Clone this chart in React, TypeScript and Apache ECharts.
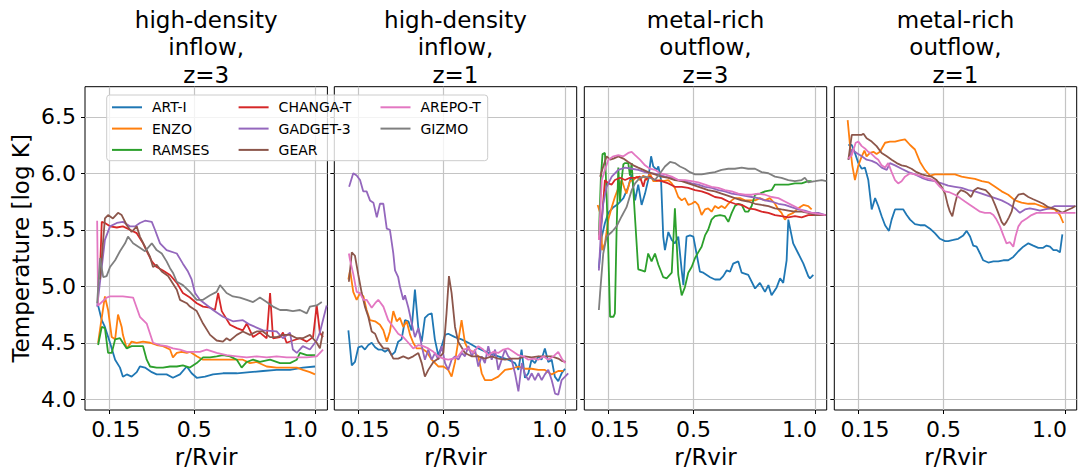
import React, { useEffect, useRef } from 'react';
import * as echarts from 'echarts';

// ---------- labels / ticks ----------
const SERIES_NAMES = ['ART-I', 'ENZO', 'RAMSES', 'CHANGA-T', 'GADGET-3', 'GEAR', 'AREPO-T', 'GIZMO'];
const SERIES_COLORS = ['#1f77b4', '#ff7f0e', '#2ca02c', '#d62728', '#9467bd', '#8c564b', '#e377c2', '#7f7f7f'];
const PANEL_TITLES = [
  'high-density\ninflow,\nz=3',
  'high-density\ninflow,\nz=1',
  'metal-rich\noutflow,\nz=3',
  'metal-rich\noutflow,\nz=1',
];
const X_TICKS = [0.15, 0.5, 1.0];
const Y_TICKS = [4.0, 4.5, 5.0, 5.5, 6.0, 6.5];
const LEGEND_COLUMNS = [
  ['ART-I', 'ENZO', 'RAMSES'],
  ['CHANGA-T', 'GADGET-3', 'GEAR'],
  ['AREPO-T', 'GIZMO'],
];

// ---------- panel 1: high-density inflow, z=3 ----------
const p1ArtI = [[0.104,4.83],[0.119,4.70],[0.132,4.64],[0.153,4.50],[0.174,4.35],[0.194,4.28],[0.206,4.20],[0.222,4.22],[0.242,4.20],[0.263,4.24],[0.276,4.29],[0.297,4.28],[0.325,4.24],[0.345,4.22],[0.386,4.22],[0.412,4.19],[0.441,4.22],[0.469,4.29],[0.489,4.23],[0.510,4.19],[0.544,4.20],[0.577,4.22],[0.618,4.23],[0.675,4.23],[0.729,4.24],[0.783,4.25],[0.839,4.26],[0.894,4.26],[0.947,4.28],[0.997,4.29]];
const p1Enzo = [[0.104,4.50],[0.112,4.62],[0.132,4.91],[0.145,4.79],[0.160,4.55],[0.174,4.53],[0.186,4.75],[0.201,4.64],[0.206,4.57],[0.222,4.45],[0.242,4.51],[0.263,4.50],[0.289,4.51],[0.318,4.50],[0.345,4.48],[0.371,4.47],[0.400,4.44],[0.412,4.37],[0.428,4.41],[0.448,4.42],[0.469,4.41],[0.482,4.42],[0.510,4.38],[0.536,4.35],[0.577,4.35],[0.618,4.35],[0.659,4.35],[0.700,4.35],[0.729,4.32],[0.757,4.33],[0.798,4.29],[0.839,4.28],[0.880,4.28],[0.922,4.28],[0.947,4.26],[0.976,4.24],[0.997,4.22]];
const p1Ramses = [[0.104,4.48],[0.119,4.64],[0.132,4.63],[0.145,4.41],[0.160,4.41],[0.174,4.53],[0.194,4.54],[0.206,4.50],[0.222,4.45],[0.242,4.47],[0.289,4.47],[0.304,4.35],[0.318,4.29],[0.345,4.28],[0.371,4.28],[0.400,4.29],[0.428,4.29],[0.453,4.30],[0.482,4.28],[0.510,4.32],[0.536,4.37],[0.565,4.37],[0.592,4.38],[0.618,4.39],[0.647,4.38],[0.675,4.35],[0.695,4.28],[0.716,4.33],[0.742,4.35],[0.770,4.33],[0.812,4.35],[0.853,4.32],[0.894,4.32],[0.922,4.35],[0.935,4.41],[0.963,4.39],[0.997,4.39]];
const p1Changa = [[0.112,5.14],[0.119,5.57],[0.132,5.56],[0.153,5.53],[0.181,5.52],[0.206,5.53],[0.235,5.50],[0.263,5.47],[0.289,5.38],[0.309,5.29],[0.325,5.22],[0.345,5.17],[0.371,5.14],[0.400,5.10],[0.428,5.03],[0.453,4.94],[0.482,4.90],[0.510,4.85],[0.536,4.82],[0.565,4.81],[0.585,4.79],[0.598,4.94],[0.613,4.78],[0.647,4.66],[0.675,4.63],[0.700,4.61],[0.716,4.67],[0.742,4.55],[0.770,4.59],[0.798,4.54],[0.812,4.94],[0.824,4.54],[0.853,4.55],[0.865,4.59],[0.880,4.50],[0.906,4.52],[0.935,4.54],[0.963,4.51],[0.989,4.55],[1.004,4.83],[1.017,4.59],[1.030,4.55]];
const p1Gadget = [[0.100,4.82],[0.132,5.41],[0.153,5.53],[0.181,5.56],[0.206,5.57],[0.235,5.53],[0.256,5.53],[0.276,5.56],[0.297,5.58],[0.325,5.57],[0.338,5.50],[0.359,5.38],[0.386,5.32],[0.428,5.29],[0.453,5.20],[0.474,5.13],[0.489,5.06],[0.503,4.94],[0.523,4.88],[0.577,4.79],[0.618,4.73],[0.659,4.69],[0.700,4.70],[0.729,4.66],[0.783,4.61],[0.839,4.60],[0.865,4.54],[0.894,4.59],[0.906,4.44],[0.922,4.41],[0.947,4.47],[0.976,4.44],[1.004,4.52],[1.017,4.59],[1.045,4.83]];
const p1Gear = [[0.112,5.06],[0.132,5.60],[0.145,5.63],[0.165,5.60],[0.186,5.65],[0.201,5.63],[0.222,5.54],[0.242,5.48],[0.263,5.53],[0.276,5.44],[0.297,5.35],[0.318,5.26],[0.330,5.17],[0.345,5.19],[0.366,5.13],[0.392,5.09],[0.428,4.97],[0.441,4.88],[0.469,4.85],[0.482,4.82],[0.510,4.78],[0.536,4.67],[0.565,4.57],[0.592,4.52],[0.618,4.51],[0.633,4.54],[0.647,4.52],[0.675,4.57],[0.700,4.60],[0.729,4.57],[0.757,4.60],[0.783,4.60],[0.812,4.55],[0.839,4.55],[0.865,4.57],[0.894,4.57],[0.922,4.54],[0.947,4.54],[0.976,4.57],[1.004,4.50],[1.017,4.45],[1.030,4.60]];
const p1Arepo = [[0.100,5.58],[0.104,4.83],[0.139,4.90],[0.153,4.91],[0.206,4.91],[0.248,4.90],[0.276,4.73],[0.304,4.67],[0.330,4.50],[0.359,4.48],[0.386,4.47],[0.412,4.45],[0.441,4.44],[0.469,4.42],[0.523,4.42],[0.551,4.44],[0.592,4.41],[0.633,4.39],[0.675,4.38],[0.716,4.37],[0.757,4.38],[0.798,4.37],[0.839,4.38],[0.880,4.37],[0.963,4.37],[1.004,4.38],[1.030,4.44]];
const p1Gizmo = [[0.100,4.85],[0.112,5.25],[0.125,5.08],[0.139,5.09],[0.153,5.17],[0.174,5.23],[0.194,5.31],[0.215,5.38],[0.227,5.44],[0.248,5.38],[0.276,5.34],[0.297,5.31],[0.325,5.38],[0.345,5.32],[0.366,5.29],[0.386,5.22],[0.400,5.16],[0.412,5.12],[0.428,5.04],[0.453,5.01],[0.482,4.95],[0.510,4.88],[0.536,4.88],[0.565,4.92],[0.592,4.95],[0.606,5.01],[0.633,4.94],[0.659,4.91],[0.688,4.90],[0.716,4.88],[0.742,4.86],[0.770,4.90],[0.798,4.86],[0.824,4.82],[0.853,4.79],[0.880,4.79],[0.906,4.78],[0.935,4.79],[0.963,4.76],[0.976,4.82],[1.004,4.83],[1.025,4.86]];

// ---------- panel 2: high-density inflow, z=1 ----------
const p2ArtI = [[0.108,4.61],[0.122,4.30],[0.135,4.33],[0.149,4.46],[0.163,4.47],[0.176,4.44],[0.190,4.48],[0.204,4.50],[0.218,4.46],[0.231,4.44],[0.245,4.44],[0.259,4.42],[0.272,4.44],[0.286,4.39],[0.300,4.42],[0.313,4.51],[0.327,4.53],[0.341,4.70],[0.355,4.69],[0.368,4.61],[0.382,4.97],[0.396,4.63],[0.410,4.51],[0.423,4.72],[0.437,4.75],[0.451,4.76],[0.464,4.53],[0.478,4.39],[0.492,4.47],[0.506,4.57],[0.519,4.58],[0.547,4.55],[0.574,4.53],[0.602,4.50],[0.643,4.45],[0.684,4.41],[0.725,4.38],[0.766,4.35],[0.794,4.32],[0.808,4.26],[0.821,4.44],[0.835,4.19],[0.849,4.23],[0.862,4.35],[0.876,4.32],[0.890,4.38],[0.903,4.35],[0.917,4.45],[0.931,4.33],[0.945,4.35],[0.958,4.20],[0.972,4.16],[0.986,4.23],[1.000,4.27]];
const p2Enzo = [[0.108,5.06],[0.115,5.14],[0.128,4.95],[0.142,4.88],[0.156,4.94],[0.170,4.91],[0.183,4.79],[0.197,4.70],[0.218,4.69],[0.238,4.66],[0.252,4.61],[0.266,4.51],[0.279,4.60],[0.293,4.78],[0.307,4.69],[0.320,4.72],[0.334,4.64],[0.348,4.69],[0.362,4.57],[0.375,4.50],[0.389,4.45],[0.410,4.45],[0.430,4.42],[0.451,4.35],[0.478,4.29],[0.499,4.29],[0.519,4.26],[0.533,4.20],[0.547,4.33],[0.560,4.51],[0.574,4.70],[0.588,4.50],[0.602,4.44],[0.622,4.42],[0.643,4.38],[0.657,4.23],[0.670,4.17],[0.698,4.17],[0.725,4.20],[0.753,4.26],[0.780,4.27],[0.808,4.29],[0.835,4.27],[0.862,4.27],[0.890,4.26],[0.917,4.26],[0.945,4.22],[0.972,4.25],[0.993,4.25]];
const p2Gadget = [[0.111,5.88],[0.128,6.00],[0.142,5.98],[0.156,5.94],[0.169,5.84],[0.183,5.84],[0.197,5.76],[0.211,5.74],[0.225,5.61],[0.238,5.73],[0.252,5.73],[0.266,5.51],[0.279,5.50],[0.293,5.29],[0.300,5.14],[0.313,5.08],[0.320,5.00],[0.334,4.88],[0.341,4.92],[0.355,4.81],[0.369,4.67],[0.382,4.55],[0.396,4.63],[0.410,4.47],[0.423,4.35],[0.437,4.44],[0.451,4.35],[0.465,4.41],[0.478,4.35],[0.492,4.47],[0.506,4.32],[0.519,4.26],[0.533,4.35],[0.547,4.38],[0.561,4.35],[0.575,4.41],[0.588,4.38],[0.602,4.47],[0.616,4.38],[0.629,4.44],[0.643,4.29],[0.657,4.38],[0.670,4.32],[0.684,4.47],[0.698,4.35],[0.712,4.44],[0.725,4.26],[0.739,4.35],[0.753,4.44],[0.766,4.38],[0.780,4.35],[0.794,4.23],[0.808,4.07],[0.822,4.32],[0.835,4.22],[0.849,4.17],[0.863,4.23],[0.876,4.17],[0.890,4.23],[0.904,4.17],[0.917,4.22],[0.931,4.26],[0.945,4.17],[0.959,4.05],[0.972,4.04],[0.986,4.17],[1.000,4.20],[1.013,4.23]];
const p2Gear = [[0.110,5.04],[0.119,5.23],[0.122,5.30],[0.135,5.27],[0.149,5.10],[0.163,4.94],[0.176,4.82],[0.190,4.73],[0.204,4.60],[0.218,4.58],[0.231,4.51],[0.252,4.45],[0.272,4.45],[0.293,4.36],[0.313,4.36],[0.334,4.38],[0.355,4.36],[0.375,4.38],[0.396,4.41],[0.410,4.32],[0.423,4.20],[0.437,4.26],[0.458,4.33],[0.478,4.36],[0.499,4.41],[0.512,4.76],[0.522,5.09],[0.533,4.94],[0.547,4.64],[0.560,4.51],[0.588,4.41],[0.615,4.38],[0.643,4.38],[0.670,4.36],[0.698,4.38],[0.725,4.36],[0.753,4.35],[0.780,4.36],[0.808,4.36],[0.835,4.38],[0.862,4.37],[0.890,4.38],[0.917,4.38],[0.945,4.38],[0.972,4.36],[0.986,4.34],[1.002,4.33]];
const p2Arepo = [[0.110,5.29],[0.115,5.23],[0.128,5.11],[0.142,4.95],[0.156,4.94],[0.170,4.88],[0.183,4.88],[0.204,4.81],[0.218,4.85],[0.231,4.88],[0.252,4.82],[0.272,4.70],[0.293,4.64],[0.313,4.58],[0.334,4.55],[0.355,4.50],[0.375,4.45],[0.396,4.48],[0.416,4.47],[0.437,4.45],[0.458,4.42],[0.478,4.38],[0.499,4.36],[0.519,4.35],[0.540,4.36],[0.560,4.38],[0.581,4.44],[0.602,4.45],[0.622,4.41],[0.643,4.47],[0.663,4.44],[0.684,4.39],[0.705,4.42],[0.725,4.41],[0.746,4.44],[0.766,4.45],[0.787,4.42],[0.808,4.39],[0.828,4.38],[0.849,4.35],[0.869,4.36],[0.890,4.35],[0.911,4.38],[0.931,4.35],[0.952,4.38],[0.972,4.42],[0.989,4.35],[1.002,4.32]];

// ---------- panel 3: metal-rich outflow, z=3 ----------
const p3ArtI = [[0.110,5.16],[0.122,5.44],[0.135,5.56],[0.149,5.65],[0.170,5.70],[0.190,5.73],[0.211,5.78],[0.231,5.88],[0.245,5.99],[0.259,5.76],[0.272,5.90],[0.286,5.72],[0.300,5.82],[0.313,5.94],[0.325,6.15],[0.334,6.06],[0.348,6.03],[0.355,6.06],[0.366,5.94],[0.375,5.44],[0.382,5.32],[0.396,5.48],[0.410,5.41],[0.423,5.38],[0.437,5.44],[0.451,5.14],[0.458,5.01],[0.464,5.23],[0.471,5.44],[0.485,5.45],[0.499,5.44],[0.512,5.29],[0.526,5.13],[0.540,5.12],[0.554,5.10],[0.568,5.08],[0.588,5.06],[0.609,5.06],[0.622,5.09],[0.636,5.14],[0.650,5.13],[0.663,5.20],[0.684,5.22],[0.698,5.12],[0.725,5.10],[0.753,4.98],[0.773,5.03],[0.794,4.95],[0.808,5.01],[0.821,4.92],[0.842,4.99],[0.856,5.07],[0.869,5.03],[0.883,5.23],[0.890,5.59],[0.910,5.38],[0.931,5.29],[0.952,5.20],[0.972,5.09],[0.979,5.07],[0.993,5.10]];
const p3Enzo = [[0.105,5.72],[0.115,5.65],[0.124,5.32],[0.135,5.38],[0.149,5.59],[0.163,5.70],[0.176,5.79],[0.190,5.87],[0.204,5.94],[0.215,5.87],[0.224,5.82],[0.238,5.93],[0.252,5.94],[0.266,5.97],[0.279,5.94],[0.293,5.98],[0.307,5.94],[0.320,6.00],[0.334,5.93],[0.348,5.93],[0.362,5.94],[0.375,5.93],[0.396,5.94],[0.410,5.91],[0.423,5.87],[0.437,5.79],[0.451,5.76],[0.464,5.78],[0.478,5.72],[0.492,5.73],[0.506,5.75],[0.519,5.72],[0.533,5.63],[0.547,5.68],[0.560,5.69],[0.574,5.66],[0.588,5.71],[0.602,5.69],[0.615,5.71],[0.629,5.69],[0.643,5.73],[0.657,5.76],[0.670,5.78],[0.691,5.78],[0.712,5.76],[0.732,5.76],[0.753,5.76],[0.773,5.78],[0.794,5.76],[0.814,5.78],[0.835,5.73],[0.849,5.68],[0.862,5.65],[0.876,5.59],[0.890,5.63],[0.910,5.65],[0.931,5.69],[0.952,5.72],[0.972,5.71],[0.986,5.68]];
const p3Ramses = [[0.110,5.45],[0.118,5.95],[0.125,6.17],[0.135,6.18],[0.142,5.80],[0.149,5.30],[0.156,4.73],[0.170,4.73],[0.176,4.76],[0.183,5.50],[0.190,6.05],[0.197,5.75],[0.204,5.95],[0.211,6.08],[0.218,6.09],[0.231,6.09],[0.238,5.98],[0.245,6.09],[0.259,5.60],[0.272,5.15],[0.286,5.14],[0.300,5.13],[0.313,5.29],[0.327,5.22],[0.341,5.29],[0.355,5.19],[0.375,5.08],[0.389,5.07],[0.410,5.12],[0.423,5.69],[0.437,5.10],[0.451,4.92],[0.464,4.99],[0.478,5.12],[0.492,5.17],[0.506,5.25],[0.519,5.30],[0.533,5.35],[0.547,5.45],[0.560,5.50],[0.574,5.59],[0.588,5.62],[0.609,5.63],[0.629,5.62],[0.643,5.57],[0.657,5.65],[0.670,5.71],[0.684,5.73],[0.698,5.72],[0.712,5.66],[0.725,5.66],[0.739,5.71],[0.753,5.81],[0.773,5.82],[0.794,5.84],[0.821,5.85],[0.835,5.90],[0.862,5.90],[0.890,5.90],[0.917,5.91],[0.945,5.91],[0.972,5.93],[0.986,5.93]];
const p3Changa = [[0.110,5.41],[0.122,5.59],[0.135,5.94],[0.149,5.91],[0.163,5.90],[0.176,5.94],[0.197,5.96],[0.218,5.94],[0.238,5.96],[0.259,5.96],[0.279,5.97],[0.293,5.88],[0.300,5.94],[0.320,5.97],[0.341,5.94],[0.368,5.93],[0.396,5.91],[0.423,5.88],[0.451,5.88],[0.478,5.87],[0.506,5.85],[0.533,5.84],[0.560,5.82],[0.588,5.79],[0.615,5.78],[0.643,5.75],[0.670,5.73],[0.698,5.72],[0.725,5.69],[0.753,5.68],[0.780,5.66],[0.808,5.65],[0.835,5.63],[0.862,5.62],[0.890,5.61],[0.917,5.62],[0.945,5.61],[0.972,5.63],[1.000,5.63],[1.027,5.63],[1.043,5.63]];
const p3Gadget = [[0.110,5.14],[0.119,5.50],[0.128,5.73],[0.142,5.88],[0.163,5.97],[0.190,6.03],[0.218,6.05],[0.245,6.04],[0.272,6.03],[0.300,6.01],[0.327,6.00],[0.355,5.99],[0.382,5.97],[0.410,5.96],[0.437,5.94],[0.464,5.93],[0.492,5.91],[0.519,5.90],[0.547,5.88],[0.574,5.87],[0.602,5.85],[0.629,5.84],[0.657,5.82],[0.684,5.81],[0.712,5.80],[0.739,5.79],[0.766,5.78],[0.794,5.76],[0.821,5.75],[0.849,5.73],[0.876,5.72],[0.903,5.70],[0.931,5.68],[0.958,5.67],[0.986,5.65],[1.013,5.65],[1.043,5.63]];
const p3Gear = [[0.115,5.97],[0.128,6.06],[0.142,6.15],[0.156,6.12],[0.170,6.13],[0.190,6.15],[0.211,6.13],[0.231,6.10],[0.252,6.07],[0.272,6.05],[0.293,6.03],[0.313,6.01],[0.341,5.99],[0.368,5.97],[0.396,5.96],[0.423,5.94],[0.451,5.93],[0.478,5.91],[0.506,5.89],[0.533,5.87],[0.560,5.85],[0.588,5.84],[0.615,5.82],[0.643,5.80],[0.670,5.78],[0.698,5.76],[0.725,5.75],[0.753,5.73],[0.780,5.72],[0.808,5.71],[0.835,5.69],[0.862,5.68],[0.890,5.67],[0.917,5.66],[0.945,5.66],[0.972,5.65],[1.000,5.63],[1.027,5.63],[1.043,5.63]];
const p3Arepo = [[0.110,5.41],[0.122,5.94],[0.135,6.03],[0.149,6.12],[0.170,6.15],[0.190,6.16],[0.211,6.15],[0.231,6.18],[0.245,6.19],[0.259,6.16],[0.279,6.12],[0.300,6.07],[0.320,6.04],[0.341,6.03],[0.362,6.00],[0.382,5.99],[0.410,5.97],[0.437,5.94],[0.464,5.94],[0.492,5.93],[0.519,5.92],[0.547,5.90],[0.574,5.88],[0.602,5.87],[0.629,5.85],[0.657,5.84],[0.684,5.82],[0.712,5.81],[0.739,5.81],[0.766,5.82],[0.794,5.81],[0.821,5.79],[0.849,5.78],[0.876,5.75],[0.903,5.72],[0.931,5.69],[0.958,5.66],[0.986,5.65],[1.013,5.64],[1.043,5.63]];
const p3Gizmo = [[0.110,4.79],[0.115,4.94],[0.128,5.29],[0.142,5.44],[0.163,5.48],[0.183,5.53],[0.204,5.62],[0.224,5.70],[0.245,5.85],[0.259,5.91],[0.279,5.96],[0.300,5.97],[0.320,5.96],[0.341,5.94],[0.362,6.00],[0.382,6.06],[0.403,6.10],[0.423,6.09],[0.444,6.06],[0.464,6.04],[0.485,6.01],[0.506,5.99],[0.533,5.99],[0.560,6.00],[0.588,6.01],[0.615,6.03],[0.643,6.04],[0.670,6.04],[0.698,6.05],[0.725,6.04],[0.753,6.04],[0.780,6.01],[0.808,6.00],[0.835,5.97],[0.862,5.96],[0.890,5.94],[0.917,5.93],[0.945,5.94],[0.958,5.96],[0.972,5.92],[1.000,5.93],[1.027,5.94],[1.047,5.93]];

// ---------- panel 4: metal-rich outflow, z=1 ----------
const p4ArtI = [[0.108,6.25],[0.122,6.25],[0.135,6.18],[0.149,6.09],[0.163,6.04],[0.176,6.05],[0.190,5.94],[0.204,5.68],[0.218,5.78],[0.231,5.71],[0.245,5.62],[0.259,5.54],[0.275,5.49],[0.286,5.59],[0.300,5.68],[0.320,5.68],[0.334,5.68],[0.348,5.63],[0.362,5.59],[0.382,5.55],[0.403,5.54],[0.423,5.54],[0.444,5.51],[0.464,5.47],[0.485,5.42],[0.506,5.40],[0.519,5.40],[0.540,5.41],[0.560,5.42],[0.581,5.45],[0.595,5.49],[0.609,5.44],[0.622,5.36],[0.636,5.35],[0.650,5.29],[0.663,5.23],[0.684,5.21],[0.705,5.22],[0.725,5.22],[0.746,5.23],[0.766,5.23],[0.787,5.26],[0.808,5.31],[0.828,5.35],[0.849,5.38],[0.869,5.36],[0.890,5.34],[0.910,5.34],[0.924,5.36],[0.938,5.35],[0.952,5.32],[0.965,5.32],[0.979,5.30],[0.989,5.46]];
const p4Enzo = [[0.105,6.47],[0.115,6.24],[0.124,6.07],[0.135,5.94],[0.149,6.07],[0.163,6.15],[0.174,6.20],[0.183,6.15],[0.197,6.18],[0.211,6.19],[0.224,6.17],[0.238,6.19],[0.259,6.27],[0.279,6.28],[0.300,6.28],[0.320,6.29],[0.341,6.30],[0.362,6.25],[0.382,6.21],[0.403,6.10],[0.423,6.03],[0.444,5.98],[0.464,5.99],[0.492,5.99],[0.519,5.99],[0.547,5.99],[0.574,5.97],[0.602,5.96],[0.629,5.95],[0.657,5.93],[0.684,5.92],[0.712,5.88],[0.739,5.84],[0.766,5.81],[0.794,5.76],[0.821,5.74],[0.849,5.73],[0.876,5.73],[0.903,5.71],[0.931,5.69],[0.958,5.68],[0.979,5.63],[0.993,5.56]];
const p4Gadget = [[0.108,6.12],[0.122,6.21],[0.142,6.18],[0.163,6.15],[0.183,6.12],[0.204,6.11],[0.224,6.09],[0.245,6.05],[0.266,6.03],[0.279,6.09],[0.300,6.07],[0.327,6.04],[0.355,6.01],[0.382,5.99],[0.410,5.96],[0.437,5.94],[0.464,5.93],[0.492,5.91],[0.519,5.89],[0.547,5.88],[0.574,5.87],[0.602,5.85],[0.629,5.84],[0.657,5.82],[0.684,5.80],[0.712,5.78],[0.739,5.76],[0.766,5.73],[0.794,5.69],[0.814,5.65],[0.835,5.68],[0.855,5.69],[0.876,5.68],[0.897,5.67],[0.917,5.68],[0.938,5.69],[0.958,5.71],[0.979,5.71],[1.000,5.71],[1.020,5.71],[1.043,5.71]];
const p4Gear = [[0.108,6.12],[0.122,6.34],[0.142,6.34],[0.163,6.34],[0.170,6.35],[0.183,6.31],[0.204,6.28],[0.224,6.24],[0.245,6.18],[0.266,6.15],[0.286,6.12],[0.307,6.09],[0.327,6.07],[0.348,6.06],[0.368,6.04],[0.389,6.01],[0.410,5.99],[0.430,5.98],[0.451,5.97],[0.471,5.94],[0.492,5.88],[0.506,5.82],[0.517,5.72],[0.526,5.66],[0.536,5.62],[0.547,5.73],[0.558,5.82],[0.571,5.85],[0.585,5.84],[0.599,5.82],[0.613,5.79],[0.626,5.85],[0.640,5.87],[0.657,5.86],[0.673,5.85],[0.687,5.82],[0.698,5.79],[0.712,5.72],[0.725,5.65],[0.739,5.57],[0.749,5.54],[0.759,5.57],[0.769,5.61],[0.780,5.66],[0.791,5.76],[0.808,5.81],[0.828,5.82],[0.849,5.79],[0.869,5.77],[0.890,5.75],[0.910,5.73],[0.931,5.70],[0.952,5.69],[0.972,5.67],[0.989,5.65],[1.006,5.67],[1.027,5.69],[1.043,5.71]];
const p4Arepo = [[0.108,6.13],[0.122,6.16],[0.138,6.27],[0.149,6.28],[0.163,6.24],[0.176,6.22],[0.190,6.19],[0.204,6.17],[0.218,6.14],[0.231,6.12],[0.245,6.07],[0.259,6.05],[0.272,6.09],[0.286,6.01],[0.300,5.94],[0.313,5.91],[0.327,5.93],[0.341,5.97],[0.362,6.00],[0.382,5.99],[0.403,5.98],[0.423,5.96],[0.444,5.95],[0.464,5.93],[0.485,5.88],[0.506,5.84],[0.526,5.83],[0.547,5.81],[0.568,5.78],[0.588,5.75],[0.609,5.72],[0.629,5.69],[0.650,5.66],[0.670,5.65],[0.691,5.65],[0.705,5.63],[0.718,5.59],[0.732,5.53],[0.746,5.45],[0.759,5.38],[0.773,5.39],[0.787,5.35],[0.796,5.44],[0.808,5.53],[0.821,5.57],[0.842,5.60],[0.862,5.63],[0.883,5.65],[0.903,5.65],[0.931,5.65],[0.958,5.65],[0.986,5.65],[1.013,5.65],[1.043,5.65]];

// panel -> series name -> points
const PANELS: Record<string, number[][]>[] = [
  { 'ART-I': p1ArtI, 'ENZO': p1Enzo, 'RAMSES': p1Ramses, 'CHANGA-T': p1Changa, 'GADGET-3': p1Gadget, 'GEAR': p1Gear, 'AREPO-T': p1Arepo, 'GIZMO': p1Gizmo },
  { 'ART-I': p2ArtI, 'ENZO': p2Enzo, 'GADGET-3': p2Gadget, 'GEAR': p2Gear, 'AREPO-T': p2Arepo },
  { 'ART-I': p3ArtI, 'ENZO': p3Enzo, 'RAMSES': p3Ramses, 'CHANGA-T': p3Changa, 'GADGET-3': p3Gadget, 'GEAR': p3Gear, 'AREPO-T': p3Arepo, 'GIZMO': p3Gizmo },
  { 'ART-I': p4ArtI, 'ENZO': p4Enzo, 'GADGET-3': p4Gadget, 'GEAR': p4Gear, 'AREPO-T': p4Arepo },
];

// ---------- layout ----------
const W = 1078;
const H = 475;
const GRID_LEFTS = [85, 334.3, 584.3, 834.3];
const GRID_W = 242.4;
const GRID_TOP = 86.7;
const GRID_H = 323.3;
const X_MIN = 0.05;
const X_MAX = 1.048;
const Y_MIN = 3.905;
const Y_MAX = 6.766;
const FONT = 'DejaVu Sans';

function buildOption() {
  const grid = GRID_LEFTS.map((left) => ({
    left, top: GRID_TOP, width: GRID_W, height: GRID_H,
    show: true, borderColor: '#000', borderWidth: 1, backgroundColor: 'transparent',
    containLabel: false, outerBoundsMode: 'none',
  }));

  const xAxis = GRID_LEFTS.map((_, i) => ({
    type: 'value', gridIndex: i, min: X_MIN, max: X_MAX,
    name: 'r/Rvir', nameLocation: 'middle', nameGap: 35,
    nameTextStyle: { fontSize: 23, color: '#000', fontFamily: FONT },
    axisLine: { show: false },
    axisTick: { show: true, inside: false, length: 4, customValues: X_TICKS, lineStyle: { color: '#000', width: 1 } },
    axisLabel: {
      show: true, customValues: X_TICKS, fontSize: 22, color: '#000', fontFamily: FONT, margin: 8,
      alignMaxLabel: 'right',
      formatter: (v: number) => (Math.abs(v - 0.15) < 1e-6 ? '{s|0.15}' : Math.abs(v - 1) < 1e-6 ? '{e|1.0}' : v.toFixed(1)),
      rich: {
        s: { fontSize: 22, color: '#000', fontFamily: FONT, padding: [0, 0, 0, 13] },
        e: { fontSize: 22, color: '#000', fontFamily: FONT, padding: [0, -2, 0, 0] },
      },
    },
    splitLine: { show: true, lineStyle: { color: '#c4c4c4', width: 1.2 } },
  }));

  const yAxis = GRID_LEFTS.map((_, i) => ({
    type: 'value', gridIndex: i, min: Y_MIN, max: Y_MAX,
    name: i === 0 ? 'Temperature [log K]' : '',
    nameLocation: 'middle', nameGap: 53,
    nameTextStyle: { fontSize: 23, color: '#000', fontFamily: FONT },
    axisLine: { show: false },
    axisTick: { show: true, inside: false, length: 4, customValues: Y_TICKS, lineStyle: { color: '#000', width: 1 } },
    axisLabel: {
      show: i === 0, customValues: Y_TICKS, fontSize: 22, color: '#000', fontFamily: FONT, margin: 9,
      formatter: (v: number) => v.toFixed(1),
    },
    splitLine: { show: true, lineStyle: { color: '#c4c4c4', width: 1.2 } },
  }));

  const series: any[] = [];
  PANELS.forEach((panel, i) => {
    SERIES_NAMES.forEach((name, k) => {
      const data = panel[name];
      if (!data) return;
      series.push({
        type: 'line', name, xAxisIndex: i, yAxisIndex: i, data,
        showSymbol: false, symbol: 'none', smooth: false, z: 2 + k * 0.01,
        lineStyle: { color: SERIES_COLORS[k], width: 1.8 },
        itemStyle: { color: SERIES_COLORS[k] },
        emphasis: { disabled: true },
      });
    });
  });

  const legendLefts = [112, 238.6, 380.5];
  const legend = LEGEND_COLUMNS.map((col, c) => ({
    orient: 'vertical', left: legendLefts[c], top: 100.3, padding: 0,
    itemWidth: 30, itemHeight: 2, itemGap: 7.3, selectedMode: false,
    data: col.map((n) => ({ name: n, icon: 'rect' })),
    textStyle: { fontSize: 14, color: '#000', fontFamily: FONT, lineHeight: 14, padding: [0, 0, 0, 5] },
    z: 5,
  }));

  const graphic: any[] = [
    {
      type: 'rect', z: 4, silent: true,
      shape: { x: 106.7, y: 95, width: 381, height: 65.7, r: 3 },
      style: { fill: 'rgba(255,255,255,0.8)', stroke: '#cccccc', lineWidth: 1 },
    },
  ];
  PANEL_TITLES.forEach((t, i) => {
    graphic.push({
      type: 'text', silent: true,
      x: GRID_LEFTS[i] + GRID_W / 2, y: 6,
      style: { text: t, fontSize: 23, lineHeight: 27.6, fontFamily: FONT, fill: '#000', align: 'center', verticalAlign: 'top' },
    });
  });

  return {
    animation: false,
    backgroundColor: '#ffffff',
    textStyle: { fontFamily: FONT },
    grid, xAxis, yAxis, series, legend, graphic,
  };
}

export default function App() {
  const ref = useRef<HTMLDivElement>(null);
  useEffect(() => {
    if (!ref.current) return;
    const chart = echarts.init(ref.current, undefined, { renderer: 'svg' });
    chart.setOption(buildOption() as any);
    return () => chart.dispose();
  }, []);
  return (
    <div
      ref={ref}
      style={{ position: 'fixed', left: 0, top: 0, width: W, height: H, background: '#fff' }}
    />
  );
}
